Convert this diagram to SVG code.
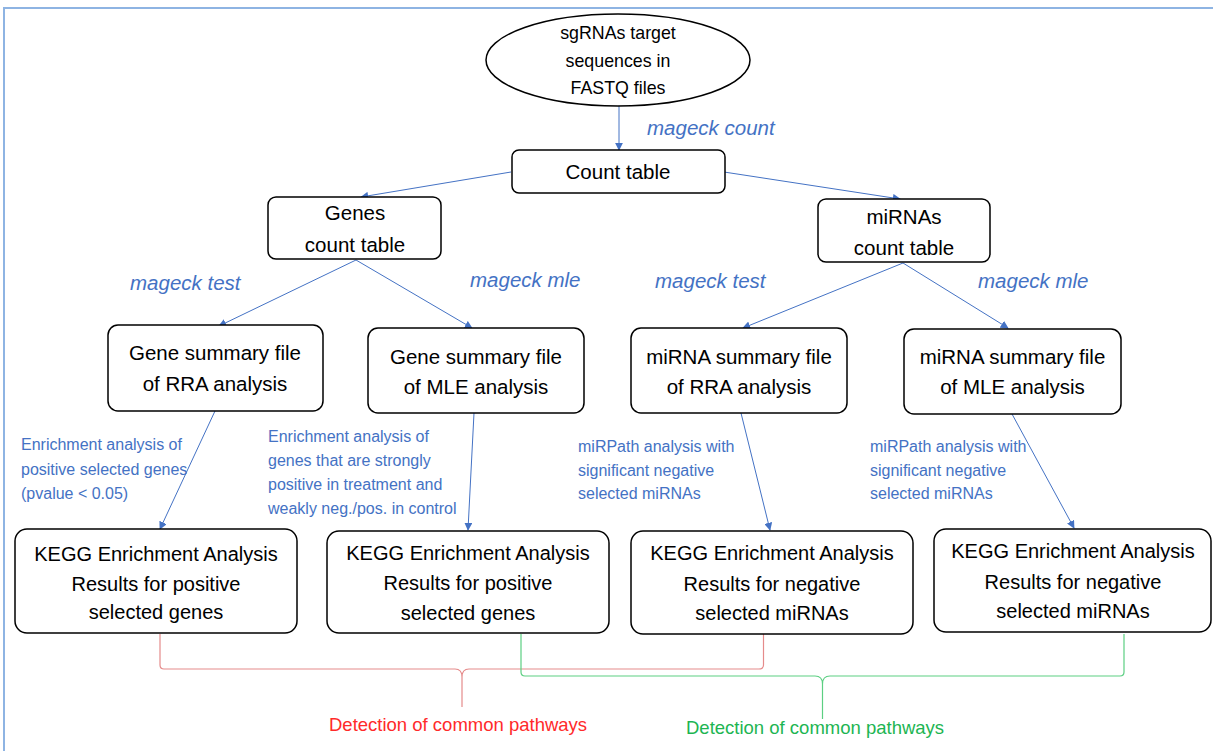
<svg xmlns="http://www.w3.org/2000/svg" width="1213" height="751" viewBox="0 0 1213 751">
<defs>
<style>
.box{fill:#fff;stroke:#000;stroke-width:1.5}
.t{font-family:"Liberation Sans",Arial,sans-serif;font-size:20.5px;fill:#000;text-anchor:middle}
.k{font-family:"Liberation Sans",Arial,sans-serif;font-size:20px;fill:#000;text-anchor:middle}
.e{font-family:"Liberation Sans",Arial,sans-serif;font-size:17.8px;fill:#000;text-anchor:middle}
.lab{font-family:"Liberation Sans",Arial,sans-serif;font-size:20.5px;font-style:italic;fill:#4472c4}
.note{font-family:"Liberation Sans",Arial,sans-serif;font-size:16px;fill:#4472c4}
.arr{stroke:#4472c4;stroke-width:1;fill:none;marker-end:url(#ah)}
.br{fill:none;stroke-width:1.2}
</style>
<marker id="ah" viewBox="0 0 10 10" refX="9" refY="5" markerWidth="8" markerHeight="8" markerUnits="userSpaceOnUse" orient="auto">
<path d="M0,0 L10,5 L0,10 z" fill="#4472c4"/>
</marker>
</defs>
<rect x="4" y="8" width="1220" height="760" fill="none" stroke="#8eb4e3" stroke-width="2"/>

<g id="connectors">
<line class="arr" x1="619" y1="106" x2="619" y2="150"/>
<line class="arr" x1="511" y1="172" x2="361" y2="197"/>
<line class="arr" x1="724" y1="172" x2="900" y2="199"/>
<line class="arr" x1="356" y1="260" x2="219" y2="326"/>
<line class="arr" x1="356" y1="260" x2="472" y2="328"/>
<line class="arr" x1="903" y1="263" x2="743" y2="328"/>
<line class="arr" x1="903" y1="263" x2="1008" y2="328"/>
<line class="arr" x1="215" y1="411" x2="160" y2="529"/>
<line class="arr" x1="474" y1="413" x2="468" y2="530"/>
<line class="arr" x1="741" y1="413" x2="770" y2="530"/>
<line class="arr" x1="1012" y1="414" x2="1074" y2="528"/>
<path class="br" stroke="#e58b8b" d="M160,634 V665 Q160,669 164,669 H455 Q462,669 462,677 V707 V677 Q462,669 469,669 H759 Q763.5,669 763.5,665 V634"/>
<path class="br" stroke="#5ccf82" d="M521,634 V672 Q521,676 525,676 H815 Q822.5,676 822.5,684 V719 V684 Q822.5,676 830,676 H1120 Q1124,676 1124,672 V634"/>
</g>

<g id="labels">
<text class="lab" x="647" y="135">mageck count</text>
<text class="lab" x="130" y="290">mageck test</text>
<text class="lab" x="470" y="287">mageck mle</text>
<text class="lab" x="655" y="288">mageck test</text>
<text class="lab" x="978" y="288">mageck mle</text>
<text class="note" x="21" y="450">Enrichment analysis of</text>
<text class="note" x="21" y="475">positive selected genes</text>
<text class="note" x="21" y="499">(pvalue &lt; 0.05)</text>
<text class="note" x="268" y="442">Enrichment analysis of</text>
<text class="note" x="268" y="466">genes that are strongly</text>
<text class="note" x="268" y="490">positive in treatment and</text>
<text class="note" x="268" y="514">weakly neg./pos. in control</text>
<text class="note" x="578" y="452">miRPath analysis with</text>
<text class="note" x="578" y="476">significant negative</text>
<text class="note" x="578" y="499">selected miRNAs</text>
<text class="note" x="870" y="452">miRPath analysis with</text>
<text class="note" x="870" y="476">significant negative</text>
<text class="note" x="870" y="499">selected miRNAs</text>
<text x="329" y="731" style="font-family:'Liberation Sans',Arial,sans-serif;font-size:18.5px;fill:#ff2a2a">Detection of common pathways</text>
<text x="686" y="734" style="font-family:'Liberation Sans',Arial,sans-serif;font-size:18.5px;fill:#1db552">Detection of common pathways</text>
</g>

<g id="source">
<ellipse class="box" cx="618" cy="60" rx="132" ry="46"/>
<text class="e" x="618" y="39">sgRNAs target</text>
<text class="e" x="618" y="67">sequences in</text>
<text class="e" x="618" y="94">FASTQ files</text>
</g>
<g id="count-table">
<rect class="box" x="512" y="150" width="213" height="43" rx="7"/>
<text class="t" x="618" y="179">Count table</text>
</g>
<g id="genes-count">
<rect class="box" x="268" y="197" width="173" height="62" rx="8"/>
<text class="t" x="355" y="220">Genes</text>
<text class="t" x="355" y="252">count table</text>
</g>
<g id="mirnas-count">
<rect class="box" x="818" y="199" width="172" height="63" rx="8"/>
<text class="t" x="904" y="224">miRNAs</text>
<text class="t" x="904" y="255">count table</text>
</g>
<g id="gene-rra">
<rect class="box" x="108" y="325" width="215" height="86" rx="10"/>
<text class="t" x="215" y="360">Gene summary file</text>
<text class="t" x="215" y="391">of RRA analysis</text>
</g>
<g id="gene-mle">
<rect class="box" x="368" y="328" width="216" height="85" rx="10"/>
<text class="t" x="476" y="364">Gene summary file</text>
<text class="t" x="476" y="394">of MLE analysis</text>
</g>
<g id="mirna-rra">
<rect class="box" x="631" y="328" width="216" height="85" rx="10"/>
<text class="t" x="739" y="364">miRNA summary file</text>
<text class="t" x="739" y="394">of RRA analysis</text>
</g>
<g id="mirna-mle">
<rect class="box" x="904" y="329" width="217" height="85" rx="10"/>
<text class="t" x="1012.5" y="364">miRNA summary file</text>
<text class="t" x="1012.5" y="394">of MLE analysis</text>
</g>
<g id="kegg-1">
<rect class="box" x="15" y="529" width="282" height="104" rx="12"/>
<text class="k" x="156" y="561">KEGG Enrichment Analysis</text>
<text class="k" x="156" y="591">Results for positive</text>
<text class="k" x="156" y="619">selected genes</text>
</g>
<g id="kegg-2">
<rect class="box" x="327" y="531" width="282" height="102" rx="12"/>
<text class="k" x="468" y="560">KEGG Enrichment Analysis</text>
<text class="k" x="468" y="590">Results for positive</text>
<text class="k" x="468" y="620">selected genes</text>
</g>
<g id="kegg-3">
<rect class="box" x="631" y="531" width="282" height="103" rx="12"/>
<text class="k" x="772" y="560">KEGG Enrichment Analysis</text>
<text class="k" x="772" y="591">Results for negative</text>
<text class="k" x="772" y="620">selected miRNAs</text>
</g>
<g id="kegg-4">
<rect class="box" x="934" y="529" width="277" height="103" rx="12"/>
<text class="k" x="1073" y="558">KEGG Enrichment Analysis</text>
<text class="k" x="1073" y="589">Results for negative</text>
<text class="k" x="1073" y="618">selected miRNAs</text>
</g>
</svg>
